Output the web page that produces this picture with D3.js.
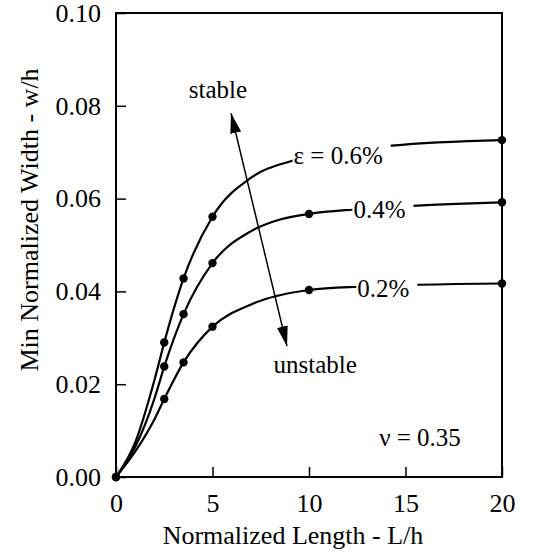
<!DOCTYPE html>
<html>
<head>
<meta charset="utf-8">
<script src="https://cdn.jsdelivr.net/npm/d3@7"></script>
<style>
  body { margin: 0; background: #fff; }
  text { font-family: "Liberation Serif", "Times New Roman", serif; fill: #000; }
</style>
</head>
<body>
<svg id="chart" width="534" height="554"></svg>
<script>
// marker positions (L/h) and the w/h values read at each marker
var markerL = [0, 2.5, 3.5, 5, 10, 20];
var marker06 = [0, 0.029, 0.0428, 0.0561, null, 0.0726]; // x=10 hidden under the label
var marker04 = [0, 0.0238, 0.0351, 0.0461, 0.0567, 0.0592];
var marker02 = [0, 0.0168, 0.0247, 0.0324, 0.0403, 0.0417];

// points
var curveL06 = [0, 1, 2, 2.5, 3.5, 5, 7, 9, 14.3, 20];
var curveW06 = [0, 0.0075, 0.021, 0.029, 0.0428, 0.0561, 0.0645, 0.068, 0.0714, 0.0726];
var curveL04 = [0, 1, 2, 2.5, 3.5, 5, 7, 8.5, 10, 12.5, 20];
var curveW04 = [0, 0.0065, 0.017, 0.0238, 0.0351, 0.0461, 0.053, 0.0555, 0.0567, 0.0577, 0.0592];
var curveL02 = [0, 1, 2, 2.5, 3.5, 5, 7, 10, 12.5, 20];
var curveW02 = [0, 0.0055, 0.0125, 0.0168, 0.0247, 0.0324, 0.0372, 0.0403, 0.041, 0.0417];

var seriesLabels = ["\u03b5 = 0.6%", "0.4%", "0.2%"];
var labelL = [9.2, 12.3, 12.5];
var labelW = [0.0675, 0.0558, 0.0388];

var xTicks = [0, 5, 10, 15, 20];
var yTicks = [0, 0.02, 0.04, 0.06, 0.08, 0.10];

(function () {
  var left = 116, top = 13, right = 502, bottom = 477;
  var width = right - left, height = bottom - top;

  var svg = d3.select("#chart");
  var chart = svg.append("g").attr("transform", "translate(" + left + "," + top + ")");

  var x = d3.scaleLinear().domain([0, 20]).range([0, width]);
  var y = d3.scaleLinear().domain([0, 0.10]).range([height, 0]);

  // arrow head
  var defs = svg.append("defs");
  defs.append("marker")
    .attr("id", "head")
    .attr("markerUnits", "userSpaceOnUse")
    .attr("viewBox", "0 -6 20 12")
    .attr("refX", 20).attr("refY", 0)
    .attr("markerWidth", 20).attr("markerHeight", 12)
    .attr("orient", "auto-start-reverse")
    .append("path")
    .attr("d", "M0,-5.5L20,0L0,5.5Z")
    .attr("fill", "#000");

  // ===== axes (ticks point inward) =====
  chart.append("g")
    .attr("transform", "translate(0," + height + ")")
    .call(d3.axisBottom(x).tickValues(xTicks).tickFormat(d3.format("d"))
      .tickSizeInner(-10).tickSizeOuter(0).tickPadding(17))
    .call(function (g) { g.select(".domain").remove(); })
    .call(function (g) { g.selectAll("line").attr("stroke", "#000").attr("stroke-width", 1.5); })
    .call(function (g) { g.selectAll("text").attr("font-size", 26).attr("font-family", "Liberation Serif").attr("fill", "#000"); });

  chart.append("g")
    .call(d3.axisLeft(y).tickValues(yTicks).tickFormat(d3.format(".2f"))
      .tickSizeInner(-10).tickSizeOuter(0).tickPadding(15))
    .call(function (g) { g.select(".domain").remove(); })
    .call(function (g) { g.selectAll("line").attr("stroke", "#000").attr("stroke-width", 1.5); })
    .call(function (g) { g.selectAll("text").attr("font-size", 26).attr("font-family", "Liberation Serif").attr("fill", "#000"); });

  // frame
  chart.append("rect")
    .attr("width", width).attr("height", height)
    .attr("fill", "none").attr("stroke", "#000").attr("stroke-width", 2);

  // ===== curves =====
  var curves = [
    { l: curveL06, w: curveW06, m: marker06 },
    { l: curveL04, w: curveW04, m: marker04 },
    { l: curveL02, w: curveW02, m: marker02 }
  ];

  var line = d3.line()
    .x(function (d) { return x(d[0]); })
    .y(function (d) { return y(d[1]); })
    .curve(d3.curveMonotoneX);

  curves.forEach(function (c, i) {
    chart.append("path")
      .datum(d3.zip(c.l, c.w))
      .attr("d", line)
      .attr("fill", "none")
      .attr("stroke", "#000")
      .attr("stroke-width", 2.2);
  });

  // labels sit on the lines, with the line broken behind them
  seriesLabels.forEach(function (s, i) {
    var g = chart.append("g");
    var bg = g.append("rect").attr("fill", "#fff");
    var t = g.append("text")
      .attr("x", x(labelL[i]))
      .attr("y", y(labelW[i]))
      .attr("font-size", 25)
      .text(s);
    var bb = t.node().getBBox();
    bg.attr("x", bb.x - 1).attr("y", bb.y + 2)
      .attr("width", bb.width + 9).attr("height", bb.height - 4);
  });

  curves.forEach(function (c) {
    var pts = d3.zip(markerL, c.m).filter(function (d) { return d[1] !== null; });
    chart.append("g")
      .selectAll("circle")
      .data(pts)
      .join("circle")
      .attr("cx", function (d) { return x(d[0]); })
      .attr("cy", function (d) { return y(d[1]); })
      .attr("r", 4.2)
      .attr("fill", "#000");
  });

  // ===== annotations =====
  chart.append("line")
    .attr("x1", x(5.96)).attr("y1", y(0.0784))
    .attr("x2", x(8.86)).attr("y2", y(0.0282))
    .attr("stroke", "#000").attr("stroke-width", 1.5)
    .attr("marker-start", "url(#head)")
    .attr("marker-end", "url(#head)");

  chart.append("text")
    .attr("x", x(5.28)).attr("y", y(0.0817))
    .attr("text-anchor", "middle").attr("font-size", 25)
    .text("stable");

  chart.append("text")
    .attr("x", x(8.16)).attr("y", y(0.0224))
    .attr("font-size", 25)
    .text("unstable");

  chart.append("text")
    .attr("x", x(15.75)).attr("y", y(0.0067))
    .attr("text-anchor", "middle").attr("font-size", 25)
    .text("\u03bd = 0.35");

  // axis titles
  svg.append("text")
    .attr("x", 293).attr("y", 544)
    .attr("text-anchor", "middle").attr("font-size", 26)
    .text("Normalized Length - L/h");

  svg.append("text")
    .attr("transform", "translate(38,220) rotate(-90)")
    .attr("text-anchor", "middle").attr("font-size", 26)
    .text("Min Normalized Width - w/h");
})();
</script>
</body>
</html>
